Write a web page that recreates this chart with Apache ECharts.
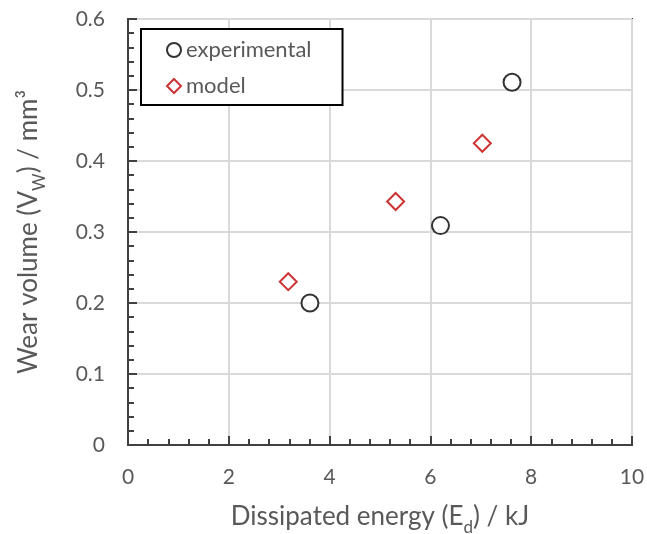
<!DOCTYPE html>
<html>
<head>
<meta charset="utf-8">
<script src="https://cdn.jsdelivr.net/npm/echarts@6/dist/echarts.min.js"></script>
<style>
  html, body { margin: 0; padding: 0; background: #fff; }
  #chart { width: 647px; height: 534px; }
</style>
</head>
<body>
<div id="chart"></div>
<script>
// Dissipated energy (kJ) vs wear volume (mm^3)
const experimentalEnergy = [3.61, 6.20, 7.62];
const experimentalVolume = [0.200, 0.309, 0.511];
const modelEnergy = [3.18, 5.31, 7.03];
const modelVolume = [0.230, 0.343, 0.425];

const toPairs = (xs, ys) => xs.map((x, i) => [x, ys[i]]);

const FONT = 'Lato, "Open Sans", sans-serif';
const GREY = '#595959';
const AXIS = '#404040';
const TITLE_SIZE = 26;

// subscripts sit at the bottom of a tall line box, so they drop below the baseline
const titleStyle = {
  color: GREY, fontSize: TITLE_SIZE, fontFamily: FONT, lineHeight: TITLE_SIZE + 12,
  rich: {
    sub: { fontSize: 17, lineHeight: 17, verticalAlign: 'bottom', color: GREY, fontFamily: FONT }
  }
};

const tickCommon = {
  axisLine: { lineStyle: { color: AXIS, width: 2 } },
  axisTick: { inside: true, length: 9, lineStyle: { color: AXIS, width: 2 } },
  minorTick: { show: true, splitNumber: 5, length: 6, lineStyle: { color: AXIS, width: 2 } },
  splitLine: { lineStyle: { color: '#d9d9d9', width: 2 } }
};

const chart = echarts.init(document.getElementById('chart'));
chart.setOption({
  animation: false,
  backgroundColor: '#fff',
  textStyle: { fontFamily: FONT },
  grid: {
    left: 128, top: 19, right: 15, bottom: 89,
    outerBoundsMode: 'none', containLabel: false,
    show: true, borderColor: AXIS, borderWidth: 2, backgroundColor: 'transparent'
  },
  legend: {
    orient: 'vertical',
    left: 141, top: 29,
    padding: [10, 31, 8, 25],
    itemGap: 14,
    itemWidth: 14, itemHeight: 14,
    borderColor: '#000', borderWidth: 2,
    backgroundColor: '#fff',
    textStyle: { color: GREY, fontSize: 22, fontFamily: FONT },
    data: ['experimental', 'model']
  },
  xAxis: Object.assign({
    type: 'value', min: 0, max: 10, interval: 2,
    name: 'Dissipated energy (E{sub|d}) / kJ',
    nameLocation: 'middle', nameGap: 53,
    nameTextStyle: titleStyle,
    axisLabel: { color: GREY, fontSize: 21, margin: 22, fontFamily: FONT }
  }, tickCommon),
  yAxis: Object.assign({
    type: 'value', min: 0, max: 0.6, interval: 0.1,
    name: 'Wear volume (V{sub|W}) / mm³',
    nameLocation: 'middle', nameGap: 80,
    nameTextStyle: titleStyle,
    axisLabel: { color: GREY, fontSize: 21, margin: 23, fontFamily: FONT }
  }, tickCommon),
  series: [
    {
      name: 'experimental', type: 'scatter',
      data: toPairs(experimentalEnergy, experimentalVolume),
      symbol: 'circle', symbolSize: 17,
      itemStyle: { color: '#fff', borderColor: '#000', borderWidth: 2 }
    },
    {
      name: 'model', type: 'scatter',
      data: toPairs(modelEnergy, modelVolume),
      symbol: 'diamond', symbolSize: 17,
      itemStyle: { color: '#fff', borderColor: '#c00000', borderWidth: 2 }
    }
  ]
});
</script>
</body>
</html>
